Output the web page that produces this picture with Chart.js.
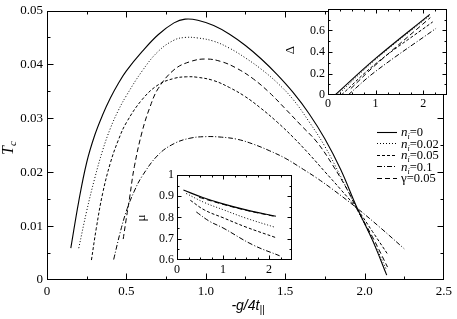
<!DOCTYPE html>
<html>
<head>
<title>Tc vs g</title>
<script src="https://cdn.jsdelivr.net/npm/chart.js"></script>
<style>
  body { margin: 0; background: #fff; }
  #wrap { position: relative; width: 457px; height: 319px; }
  #wrap canvas { position: absolute; }
</style>
</head>
<body>
<div id="wrap">
  <canvas id="mainChart" width="457" height="319" style="left:0;top:0"></canvas>
  <canvas id="deltaChart" width="177" height="115" style="left:280px;top:0"></canvas>
  <canvas id="muChart" width="170" height="115" style="left:130px;top:165px"></canvas>
</div>

<script>
// main panel: Tc against -g/4t||, points are [x, Tc]
var tcN0  = [[0.15,0.0059],[0.20,0.0146],[0.25,0.0218],[0.30,0.0268],[0.35,0.0306],[0.40,0.0338],[0.45,0.0365],[0.50,0.0388],[0.60,0.0424],[0.70,0.0455],[0.80,0.0477],[0.87,0.0484],[0.95,0.0482],[1.05,0.0472],[1.15,0.0456],[1.25,0.0435],[1.35,0.0410],[1.45,0.0381],[1.55,0.0348],[1.65,0.0309],[1.75,0.0262],[1.85,0.0205],[1.95,0.0136],[2.05,0.0074],[2.14,0.0009]];
var tcN02 = [[0.20,0.0059],[0.25,0.0128],[0.30,0.0188],[0.35,0.0240],[0.40,0.0282],[0.45,0.0315],[0.50,0.0342],[0.60,0.0388],[0.70,0.0424],[0.80,0.0445],[0.87,0.0450],[0.95,0.0449],[1.05,0.0443],[1.15,0.0430],[1.25,0.0412],[1.35,0.0391],[1.45,0.0366],[1.55,0.0335],[1.65,0.0294],[1.75,0.0248],[1.85,0.0192],[1.95,0.0133],[2.05,0.0075],[2.14,0.0018]];
var tcN05 = [[0.28,0.0037],[0.31,0.0095],[0.35,0.0160],[0.40,0.0218],[0.45,0.0260],[0.50,0.0292],[0.60,0.0335],[0.70,0.0362],[0.80,0.0374],[0.88,0.0377],[0.95,0.0376],[1.05,0.0370],[1.15,0.0357],[1.25,0.0340],[1.35,0.0318],[1.45,0.0293],[1.55,0.0265],[1.65,0.0234],[1.75,0.0201],[1.85,0.0168],[1.95,0.0133],[2.05,0.0090],[2.15,0.0046]];
var tcN10 = [[0.42,0.0038],[0.46,0.0087],[0.50,0.0128],[0.55,0.0165],[0.60,0.0193],[0.70,0.0232],[0.80,0.0253],[0.90,0.0263],[1.00,0.0266],[1.10,0.0265],[1.20,0.0261],[1.30,0.0252],[1.40,0.0240],[1.50,0.0226],[1.60,0.0208],[1.70,0.0189],[1.80,0.0168],[1.95,0.0134],[2.10,0.0097],[2.25,0.0058]];
var tcGam = [[0.48,0.0076],[0.50,0.0115],[0.52,0.0152],[0.55,0.0210],[0.60,0.0276],[0.65,0.0322],[0.70,0.0355],[0.80,0.0390],[0.90,0.0405],[1.00,0.0410],[1.10,0.0405],[1.20,0.0392],[1.30,0.0373],[1.40,0.0348],[1.50,0.0318],[1.60,0.0287],[1.70,0.0256],[1.80,0.0213],[1.90,0.0163],[1.95,0.0133],[2.05,0.0080],[2.145,0.0024]];

// upper inset: Delta
var deltaN0  = [[0.15,0],[1.00,0.34],[2.14,0.75]];
var deltaN02 = [[0.20,0],[1.00,0.33],[2.14,0.74]];
var deltaN05 = [[0.28,0],[1.00,0.29],[2.20,0.68]];
var deltaN10 = [[0.42,0],[1.00,0.22],[2.27,0.62]];
var deltaGam = [[0.48,0.06],[1.00,0.28],[2.15,0.72]];

// lower inset: mu
var muN0  = [[0.14,0.929],[0.56,0.894],[1.00,0.864],[1.50,0.836],[2.15,0.806]];
var muN02 = [[0.20,0.913],[0.60,0.870],[1.00,0.837],[1.50,0.797],[2.13,0.754]];
var muN05 = [[0.29,0.881],[0.60,0.835],[1.00,0.799],[1.50,0.755],[2.14,0.706]];
var muN10 = [[0.42,0.826],[0.70,0.783],[1.00,0.751],[1.65,0.671],[2.23,0.620]];
var muGam = [[0.48,0.895],[1.00,0.862],[1.50,0.834],[2.15,0.804]];

var legendText = [['n','i','=0'],['n','i','=0.02'],['n','i','=0.05'],['n','i','=0.1'],['\u03b3','','=0.05']];

// line styles, same order as the legend
var lineStyles = [
    {borderDash: [], borderWidth: 1.1},
    {borderDash: [1, 2], borderWidth: 1},
    {borderDash: [3, 2], borderWidth: 1},
    {borderDash: [5, 2, 1, 2], borderWidth: 1},
    {borderDash: [5, 3], borderWidth: 1}
];

var SERIF = "'Liberation Serif', 'Times New Roman', serif";
var SANS = "'Liberation Sans', Arial, sans-serif";

function toXY(arr) {
    return arr.map(function (p) { return {x: p[0], y: p[1]}; });
}

function makeSets(list) {
    return list.map(function (arr, i) {
        return {
            data: toXY(arr),
            borderColor: '#000',
            borderWidth: lineStyles[i].borderWidth,
            borderDash: lineStyles[i].borderDash,
            pointRadius: 0,
            fill: false,
            tension: 0.4
        };
    });
}

// draws pieces of text one after another: [text, font, dy]
function drawRich(ctx, parts, x, y, center) {
    var w = 0;
    parts.forEach(function (p) { ctx.font = p[1]; w += ctx.measureText(p[0]).width; });
    var cx = center ? x - w / 2 : x;
    parts.forEach(function (p) {
        ctx.font = p[1];
        ctx.fillText(p[0], cx, y + (p[2] || 0));
        cx += ctx.measureText(p[0]).width;
    });
}

// box round the plot area with inward ticks on all four sides
var boxTicks = {
    id: 'boxTicks',
    beforeDraw: function (chart, args, o) {
        if (!o.fill) return;
        var a = chart.chartArea, ctx = chart.ctx;
        ctx.save();
        ctx.fillStyle = '#fff';
        ctx.fillRect(a.left, a.top, a.right - a.left, a.bottom - a.top);
        ctx.restore();
    },
    afterDraw: function (chart, args, o) {
        var ctx = chart.ctx, a = chart.chartArea, x = chart.scales.x, y = chart.scales.y;
        var L = Math.round(a.left) + 0.5, R = Math.round(a.right) - 0.5;
        var T = Math.round(a.top) + 0.5, B = Math.round(a.bottom) - 0.5;
        ctx.save();
        ctx.strokeStyle = '#000';
        ctx.lineWidth = 1;
        ctx.strokeRect(L, T, R - L, B - T);
        ctx.beginPath();
        var nx = Math.round((x.max - x.min) / o.xMinor);
        for (var i = 1; i < nx; i++) {
            var v = x.min + i * o.xMinor;
            var k = v / o.xMajor;
            var len = Math.abs(k - Math.round(k)) < 1e-6 ? o.major : o.minor;
            var px = Math.round(x.getPixelForValue(v)) + 0.5;
            ctx.moveTo(px, B); ctx.lineTo(px, B - len);
            ctx.moveTo(px, T); ctx.lineTo(px, T + len);
        }
        var ny = Math.round((y.max - y.min) / o.yMinor);
        for (var j = 1; j < ny; j++) {
            var w = y.min + j * o.yMinor;
            var m = w / o.yMajor;
            var len2 = Math.abs(m - Math.round(m)) < 1e-6 ? o.major : o.minor;
            var py = Math.round(y.getPixelForValue(w)) + 0.5;
            ctx.moveTo(L, py); ctx.lineTo(L + len2, py);
            ctx.moveTo(R, py); ctx.lineTo(R - len2, py);
        }
        ctx.stroke();

        // axis titles
        ctx.fillStyle = '#000';
        ctx.textBaseline = 'alphabetic';
        (o.titles || []).forEach(function (t) {
            ctx.save();
            ctx.translate(t.x, t.y);
            if (t.rotate) ctx.rotate(-Math.PI / 2);
            drawRich(ctx, t.parts, 0, 0, true);
            ctx.restore();
        });
        ctx.restore();
    }
};

// legend drawn inside the main panel
var innerLegend = {
    id: 'innerLegend',
    afterDraw: function (chart, args, o) {
        if (!o.show) return;
        var ctx = chart.ctx;
        ctx.save();
        ctx.fillStyle = '#000';
        ctx.strokeStyle = '#000';
        chart.data.datasets.forEach(function (ds, i) {
            var yy = o.top + i * o.step;
            ctx.beginPath();
            ctx.lineWidth = ds.borderWidth;
            ctx.setLineDash(ds.borderDash);
            ctx.moveTo(o.left, Math.round(yy) + 0.5);
            ctx.lineTo(o.left + o.lineLen, Math.round(yy) + 0.5);
            ctx.stroke();
            ctx.setLineDash([]);
            var t = legendText[i];
            var parts = [];
            if (t[1]) {
                parts.push([t[0], 'italic 13px ' + SERIF, 0]);
                parts.push([t[1], 'italic 8px ' + SERIF, 3]);
            } else {
                parts.push([t[0], '13px ' + SERIF, 0]);
            }
            parts.push([t[2], '12.5px ' + SERIF, 0]);
            drawRich(ctx, parts, o.left + o.lineLen + 4, yy + 4.5, false);
        });
        ctx.restore();
    }
};

Chart.defaults.color = '#000';
Chart.defaults.font.family = SERIF;

function axis(min, max, step, size, fontSize, pad, opts) {
    var a = {
        type: 'linear',
        min: min,
        max: max,
        grid: {display: false, drawTicks: false},
        border: {display: false},
        ticks: {
            stepSize: step,
            includeBounds: false,
            padding: pad,
            font: {size: fontSize, lineHeight: 1, family: SERIF},
            maxRotation: 0,
            autoSkip: false
        }
    };
    if (opts && opts.horizontal) {
        a.afterFit = function (s) { s.height = size; };
    } else {
        a.afterFit = function (s) { s.width = size; };
    }
    if (opts && opts.callback) a.ticks.callback = opts.callback;
    return a;
}

var mainChart = new Chart(document.getElementById('mainChart').getContext('2d'), {
    type: 'line',
    data: {datasets: makeSets([tcN0, tcN02, tcN05, tcN10, tcGam])},
    options: {
        responsive: false,
        animation: false,
        layout: {padding: {left: 0, top: 6, right: 10, bottom: 0}},
        scales: {
            x: axis(0, 2.5, 0.5, 39, 13, 5, {horizontal: true}),
            y: axis(0, 0.05, 0.01, 47, 13, 4)
        },
        plugins: {
            legend: {display: false},
            tooltip: {enabled: false},
            boxTicks: {
                xMinor: 0.25, xMajor: 0.5, yMinor: 0.005, yMajor: 0.01, major: 6, minor: 3,
                titles: [
                    {x: 13, y: 148, rotate: true, parts: [['T', 'italic 16px ' + SERIF, 0], ['c', 'italic 11px ' + SERIF, 3]]},
                    {x: 248, y: 310, parts: [['-g/4t', 'italic 14px ' + SANS, 0], ['||', 'italic 10px ' + SANS, 3]]}
                ]
            },
            innerLegend: {show: true, left: 377, top: 131.5, step: 11.5, lineLen: 20}
        }
    },
    plugins: [boxTicks, innerLegend]
});

var deltaChart = new Chart(document.getElementById('deltaChart').getContext('2d'), {
    type: 'line',
    data: {datasets: makeSets([deltaN0, deltaN02, deltaN05, deltaN10, deltaGam])},
    options: {
        responsive: false,
        animation: false,
        layout: {padding: {left: 0, top: 6, right: 10, bottom: 0}},
        scales: {
            x: axis(0, 2.5, 1, 20, 12, 3, {horizontal: true}),
            y: axis(0, 0.8, 0.2, 48, 12, 3, {callback: function (v) { return v > 0.7 ? '' : Math.round(v * 10) / 10; }})
        },
        plugins: {
            legend: {display: false},
            tooltip: {enabled: false},
            boxTicks: {
                fill: true, xMinor: 0.25, xMajor: 1, yMinor: 0.1, yMajor: 0.2, major: 4, minor: 2,
                titles: [{x: 14, y: 50, rotate: true, parts: [['\u0394', '13px ' + SERIF, 0]]}]
            }
        }
    },
    plugins: [boxTicks]
});

var muChart = new Chart(document.getElementById('muChart').getContext('2d'), {
    type: 'line',
    data: {datasets: makeSets([muN0, muN02, muN05, muN10, muGam])},
    options: {
        responsive: false,
        animation: false,
        layout: {padding: {left: 0, top: 10, right: 8, bottom: 0}},
        scales: {
            x: axis(0, 2.5, 1, 20, 12, 4, {horizontal: true}),
            y: axis(0.6, 1, 0.1, 47, 12, 3, {callback: function (v) { return Math.round(v * 10) / 10; }})
        },
        plugins: {
            legend: {display: false},
            tooltip: {enabled: false},
            boxTicks: {
                fill: true, xMinor: 0.25, xMajor: 1, yMinor: 0.05, yMajor: 0.1, major: 4, minor: 2,
                titles: [{x: 15, y: 53, rotate: true, parts: [['\u03bc', '13px ' + SERIF, 0]]}]
            }
        }
    },
    plugins: [boxTicks]
});
</script>
</body>
</html>
